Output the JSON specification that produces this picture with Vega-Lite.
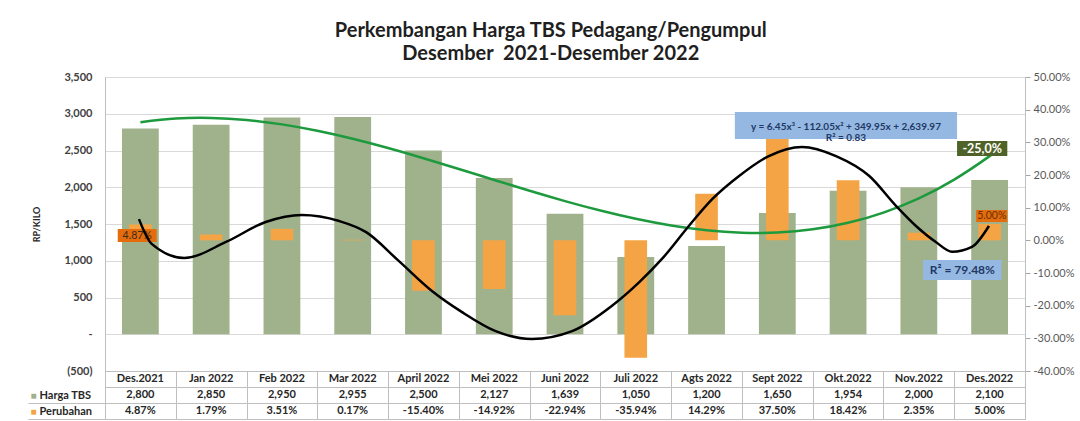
{
  "$schema": "https://vega.github.io/schema/vega-lite/v6.json",
  "background": "white",
  "padding": {"left": 27, "top": 20, "right": 0, "bottom": 0},
  "title": {
    "text": ["Perkembangan Harga TBS Pedagang/Pengumpul", "Desember\u00a0 2021-Desember 2022"],
    "font": "Lato", "fontSize": 20, "fontWeight": "bold", "color": "#1f1f1f",
    "anchor": "middle", "offset": 7, "lineHeight": 23
  },
  "config": {
    "font": "Lato",
    "view": {"stroke": "#bfbfbf"},
    "locale": {"number": {"decimal": ".", "thousands": ",", "grouping": [3], "currency": ["", ""], "minus": "-"}}
  },
  "datasets": {
    "bulanan": [
      {"bulan": "Des.2021", "harga": 2800, "perubahan": 0.0487},
      {"bulan": "Jan 2022", "harga": 2850, "perubahan": 0.0179},
      {"bulan": "Feb 2022", "harga": 2950, "perubahan": 0.0351},
      {"bulan": "Mar 2022", "harga": 2955, "perubahan": 0.0017},
      {"bulan": "April 2022", "harga": 2500, "perubahan": -0.1540},
      {"bulan": "Mei 2022", "harga": 2127, "perubahan": -0.1492},
      {"bulan": "Juni 2022", "harga": 1639, "perubahan": -0.2294},
      {"bulan": "Juli 2022", "harga": 1050, "perubahan": -0.3594},
      {"bulan": "Agts 2022", "harga": 1200, "perubahan": 0.1429},
      {"bulan": "Sept 2022", "harga": 1650, "perubahan": 0.3750},
      {"bulan": "Okt.2022", "harga": 1954, "perubahan": 0.1842},
      {"bulan": "Nov.2022", "harga": 2000, "perubahan": 0.0235},
      {"bulan": "Des.2022", "harga": 2100, "perubahan": 0.0500}
    ],
    "trendHarga": [
      {"t": 1, "harga": 2884.32}, {"t": 1.5, "harga": 2934.56}, {"t": 2, "harga": 2943.27},
      {"t": 2.5, "harga": 2915.32}, {"t": 3, "harga": 2855.52}, {"t": 3.5, "harga": 2768.73},
      {"t": 4, "harga": 2659.77}, {"t": 4.5, "harga": 2533.50}, {"t": 5, "harga": 2394.72},
      {"t": 5.5, "harga": 2248.31}, {"t": 6, "harga": 2099.07}, {"t": 6.5, "harga": 1951.87},
      {"t": 7, "harga": 1811.52}, {"t": 7.5, "harga": 1682.88}, {"t": 8, "harga": 1570.77},
      {"t": 8.5, "harga": 1480.05}, {"t": 9, "harga": 1415.52}, {"t": 9.5, "harga": 1382.06},
      {"t": 10, "harga": 1384.47}, {"t": 10.5, "harga": 1427.62}, {"t": 11, "harga": 1516.32},
      {"t": 11.5, "harga": 1655.43}, {"t": 12, "harga": 1849.77}, {"t": 12.5, "harga": 2104.20},
      {"t": 13, "harga": 2423.52}, {"t": 13.2, "harga": 2570.5}
    ],
    "trendPerubahan": [
      {"t": 0.98, "p": 0.065}, {"t": 1.16, "p": -0.011}, {"t": 1.62, "p": -0.054},
      {"t": 2.21, "p": -0.005}, {"t": 2.77, "p": 0.056}, {"t": 3.28, "p": 0.0775},
      {"t": 3.81, "p": 0.059}, {"t": 4.19, "p": 0.025}, {"t": 4.65, "p": -0.063},
      {"t": 5.12, "p": -0.155}, {"t": 5.54, "p": -0.219}, {"t": 6.02, "p": -0.278},
      {"t": 6.53, "p": -0.302}, {"t": 7.10, "p": -0.278}, {"t": 7.66, "p": -0.201},
      {"t": 8.05, "p": -0.128}, {"t": 8.37, "p": -0.057}, {"t": 8.75, "p": 0.044},
      {"t": 9.08, "p": 0.126}, {"t": 9.46, "p": 0.197}, {"t": 9.88, "p": 0.258},
      {"t": 10.35, "p": 0.286}, {"t": 10.83, "p": 0.258}, {"t": 11.30, "p": 0.197},
      {"t": 11.68, "p": 0.105}, {"t": 11.96, "p": 0.044}, {"t": 12.24, "p": -0.005},
      {"t": 12.47, "p": -0.035}, {"t": 12.75, "p": -0.020}, {"t": 12.99, "p": 0.044}
    ]
  },
  "bounds": "flush",
  "spacing": 0,
  "vconcat": [
    {
      "width": 920,
      "height": 294,
      "layer": [
        {
          "data": {"name": "bulanan"},
          "mark": {"type": "bar", "width": {"band": 0.52}, "color": "#A0B28C"},
          "encoding": {
            "x": {"field": "bulan", "type": "nominal",
              "scale": {"type": "band", "paddingInner": 0, "paddingOuter": 0,
                "domain": ["Des.2021","Jan 2022","Feb 2022","Mar 2022","April 2022","Mei 2022","Juni 2022","Juli 2022","Agts 2022","Sept 2022","Okt.2022","Nov.2022","Des.2022"]},
              "axis": null},
            "y": {"field": "harga", "type": "quantitative",
              "scale": {"domain": [-500, 3500], "nice": false, "zero": false},
              "axis": {
                "title": "RP/KILO", "titleFontSize": 9, "titleFontWeight": "bold", "titleColor": "#262626", "titlePadding": 22,
                "values": [-500, 0, 500, 1000, 1500, 2000, 2500, 3000, 3500],
                "labelExpr": "datum.value == 0 ? '-\u00a0\u00a0' : (datum.value < 0 ? '(' + format(-datum.value, ',') + ')' : format(datum.value, ','))",
                "labelFontSize": 11, "labelFontWeight": "bold", "labelColor": "#404040", "labelPadding": 13,
                "ticks": false, "domain": true, "domainColor": "#bfbfbf",
                "grid": true, "gridColor": "#d9d9d9"
              }}
          }
        },
        {
          "data": {"name": "bulanan"},
          "mark": {"type": "bar", "width": {"band": 0.32}, "color": "#F5A445"},
          "encoding": {
            "x": {"field": "bulan", "type": "nominal",
              "scale": {"type": "band", "paddingInner": 0, "paddingOuter": 0,
                "domain": ["Des.2021","Jan 2022","Feb 2022","Mar 2022","April 2022","Mei 2022","Juni 2022","Juli 2022","Agts 2022","Sept 2022","Okt.2022","Nov.2022","Des.2022"]},
              "axis": null},
            "y": {"field": "perubahan", "type": "quantitative",
              "scale": {"domain": [-0.4, 0.5], "nice": false, "zero": false},
              "axis": {
                "orient": "right", "title": null,
                "values": [-0.4, -0.3, -0.2, -0.1, 0, 0.1, 0.2, 0.3, 0.4, 0.5],
                "format": ".2%", "labelFontSize": 11, "labelColor": "#595959", "labelPadding": 3,
                "ticks": true, "tickSize": 5, "tickColor": "#a6a6a6",
                "domain": true, "domainColor": "#bfbfbf", "grid": false
              }}
          }
        },
        {
          "data": {"name": "trendHarga"},
          "mark": {"type": "line", "color": "#1E9A3E", "strokeWidth": 2.5, "interpolate": "natural"},
          "encoding": {
            "x": {"field": "t", "type": "quantitative", "scale": {"domain": [0.5, 13.5], "nice": false, "zero": false}, "axis": null},
            "y": {"field": "harga", "type": "quantitative", "scale": {"domain": [-500, 3500], "nice": false, "zero": false}, "axis": null}
          }
        },
        {
          "layer": [
            {
              "data": {"values": [{}]},
              "mark": {"type": "rect", "color": "#95B8E3"},
              "encoding": {
                "x": {"datum": 9.40, "type": "quantitative", "scale": {"domain": [0.5, 13.5], "nice": false, "zero": false}, "axis": null},
                "x2": {"datum": 12.54},
                "y": {"datum": 0.3927, "type": "quantitative", "scale": {"domain": [-0.4, 0.5], "nice": false, "zero": false}, "axis": null},
                "y2": {"datum": 0.3101}
              }
            },
            {
              "data": {"values": [{}]},
              "mark": {"type": "text", "text": ["y = 6.45x³ - 112.05x² + 349.95x + 2,639.97", "R² = 0.83"], "fontSize": 10, "fontWeight": "bold", "color": "#1F3864", "lineHeight": 11.5, "baseline": "middle"},
              "encoding": {
                "x": {"datum": 10.97, "type": "quantitative", "scale": {"domain": [0.5, 13.5], "nice": false, "zero": false}, "axis": null},
                "y": {"datum": 0.3479, "type": "quantitative", "scale": {"domain": [-0.4, 0.5], "nice": false, "zero": false}, "axis": null}
              }
            },
            {
              "data": {"values": [{}]},
              "mark": {"type": "rect", "color": "#4F6228"},
              "encoding": {
                "x": {"datum": 12.54, "type": "quantitative", "scale": {"domain": [0.5, 13.5], "nice": false, "zero": false}, "axis": null},
                "x2": {"datum": 13.25},
                "y": {"datum": 0.304, "type": "quantitative", "scale": {"domain": [-0.4, 0.5], "nice": false, "zero": false}, "axis": null},
                "y2": {"datum": 0.258}
              }
            },
            {
              "data": {"values": [{}]},
              "mark": {"type": "text", "text": "-25,0%", "fontSize": 12.5, "fontWeight": "bold", "color": "#ffffff", "baseline": "middle"},
              "encoding": {
                "x": {"datum": 12.895, "type": "quantitative", "scale": {"domain": [0.5, 13.5], "nice": false, "zero": false}, "axis": null},
                "y": {"datum": 0.281, "type": "quantitative", "scale": {"domain": [-0.4, 0.5], "nice": false, "zero": false}, "axis": null}
              }
            },
            {
              "data": {"values": [{}]},
              "mark": {"type": "rect", "color": "#E46C0A"},
              "encoding": {
                "x": {"datum": 12.81, "type": "quantitative", "scale": {"domain": [0.5, 13.5], "nice": false, "zero": false}, "axis": null},
                "x2": {"datum": 13.25},
                "y": {"datum": 0.0928, "type": "quantitative", "scale": {"domain": [-0.4, 0.5], "nice": false, "zero": false}, "axis": null},
                "y2": {"datum": 0.056}
              }
            },
            {
              "data": {"values": [{}]},
              "mark": {"type": "text", "text": "5.00%", "fontSize": 10.5, "color": "#6B3008", "baseline": "middle"},
              "encoding": {
                "x": {"datum": 13.03, "type": "quantitative", "scale": {"domain": [0.5, 13.5], "nice": false, "zero": false}, "axis": null},
                "y": {"datum": 0.0744, "type": "quantitative", "scale": {"domain": [-0.4, 0.5], "nice": false, "zero": false}, "axis": null}
              }
            },
            {
              "data": {"values": [{}]},
              "mark": {"type": "rect", "color": "#E46C0A"},
              "encoding": {
                "x": {"datum": 0.68, "type": "quantitative", "scale": {"domain": [0.5, 13.5], "nice": false, "zero": false}, "axis": null},
                "x2": {"datum": 1.23},
                "y": {"datum": 0.0346, "type": "quantitative", "scale": {"domain": [-0.4, 0.5], "nice": false, "zero": false}, "axis": null},
                "y2": {"datum": -0.0052}
              }
            },
            {
              "data": {"values": [{}]},
              "mark": {"type": "text", "text": "4.87%", "fontSize": 10.5, "color": "#3D2B1F", "baseline": "middle"},
              "encoding": {
                "x": {"datum": 0.955, "type": "quantitative", "scale": {"domain": [0.5, 13.5], "nice": false, "zero": false}, "axis": null},
                "y": {"datum": 0.0147, "type": "quantitative", "scale": {"domain": [-0.4, 0.5], "nice": false, "zero": false}, "axis": null}
              }
            },
            {
              "data": {"values": [{}]},
              "mark": {"type": "rect", "color": "#95B8E3"},
              "encoding": {
                "x": {"datum": 12.06, "type": "quantitative", "scale": {"domain": [0.5, 13.5], "nice": false, "zero": false}, "axis": null},
                "x2": {"datum": 13.17},
                "y": {"datum": -0.0603, "type": "quantitative", "scale": {"domain": [-0.4, 0.5], "nice": false, "zero": false}, "axis": null},
                "y2": {"datum": -0.1215}
              }
            },
            {
              "data": {"values": [{}]},
              "mark": {"type": "text", "text": "R² = 79.48%", "fontSize": 12, "fontWeight": "bold", "color": "#1F3864", "baseline": "middle"},
              "encoding": {
                "x": {"datum": 12.615, "type": "quantitative", "scale": {"domain": [0.5, 13.5], "nice": false, "zero": false}, "axis": null},
                "y": {"datum": -0.0909, "type": "quantitative", "scale": {"domain": [-0.4, 0.5], "nice": false, "zero": false}, "axis": null}
              }
            },
            {
              "data": {"name": "trendPerubahan"},
              "mark": {"type": "line", "color": "#000000", "strokeWidth": 2.5, "interpolate": "monotone"},
              "encoding": {
                "x": {"field": "t", "type": "quantitative", "scale": {"domain": [0.5, 13.5], "nice": false, "zero": false}, "axis": null},
                "y": {"field": "p", "type": "quantitative", "scale": {"domain": [-0.4, 0.5], "nice": false, "zero": false}, "axis": null}
              }
            }
          ]
        }
      ],
      "resolve": {"scale": {"x": "independent", "y": "independent"}}
    },
    {
      "width": 920,
      "height": 48,
      "data": {"name": "bulanan"},
      "layer": [
        {
          "layer": [
            {
              "mark": {"type": "text", "fontWeight": "bold", "fontSize": 11, "color": "#262626"},
              "encoding": {
                "x": {"field": "bulan", "type": "nominal",
                  "scale": {"type": "band", "paddingInner": 0, "paddingOuter": 0,
                    "domain": ["Des.2021","Jan 2022","Feb 2022","Mar 2022","April 2022","Mei 2022","Juni 2022","Juli 2022","Agts 2022","Sept 2022","Okt.2022","Nov.2022","Des.2022"]},
                  "axis": {"title": null, "labels": false, "ticks": false, "domain": false, "grid": true, "tickBand": "extent", "gridColor": "#bfbfbf"}},
                "y": {"datum": "m", "type": "nominal",
                  "scale": {"type": "band", "domain": ["m", "Harga TBS", "Perubahan"], "paddingInner": 0, "paddingOuter": 0},
                  "axis": {"title": null, "labelExpr": "datum.value == 'm' ? '' : datum.value", "labelAlign": "left", "labelPadding": 66,
                    "ticks": false, "domain": false, "grid": true, "tickBand": "extent", "gridColor": "#bfbfbf",
                    "labelFontWeight": "bold", "labelFontSize": 11, "labelColor": "#262626"}},
                "text": {"field": "bulan"}
              }
            },
            {
              "mark": {"type": "text", "fontWeight": "bold", "fontSize": 11, "color": "#262626"},
              "encoding": {
                "x": {"field": "bulan", "type": "nominal"},
                "y": {"datum": "Harga TBS", "type": "nominal"},
                "text": {"field": "harga", "format": ","}
              }
            },
            {
              "mark": {"type": "text", "fontWeight": "bold", "fontSize": 11, "color": "#262626"},
              "encoding": {
                "x": {"field": "bulan", "type": "nominal"},
                "y": {"datum": "Perubahan", "type": "nominal"},
                "text": {"field": "perubahan", "format": ".2%"}
              }
            }
          ]
        },
        {
          "data": {"values": [{}]},
          "mark": {"type": "text", "text": ""},
          "encoding": {
            "y": {"datum": "Harga TBS", "type": "nominal",
              "scale": {"type": "band", "domain": ["m", "Harga TBS", "Perubahan"], "paddingInner": 0, "paddingOuter": 0},
              "axis": {"title": null, "orient": "left",
                "labelExpr": "(datum.value == 'Harga TBS' || datum.value == 'Perubahan') ? '■' : ''",
                "labelColor": {"condition": {"test": "datum.value == 'Harga TBS'", "value": "#A0B28C"}, "value": "#F5A445"},
                "labelAlign": "left", "labelPadding": -2, "labelFontSize": 10,
                "ticks": true, "tickSize": 77, "tickBand": "extent",
                "tickColor": {"condition": {"test": "datum.value == 'Harga TBS' || datum.value == 'Perubahan'", "value": "#bfbfbf"}, "value": "transparent"},
                "domain": false, "grid": false}}
          }
        }
      ],
      "resolve": {"scale": {"y": "independent"}}
    }
  ]
}
